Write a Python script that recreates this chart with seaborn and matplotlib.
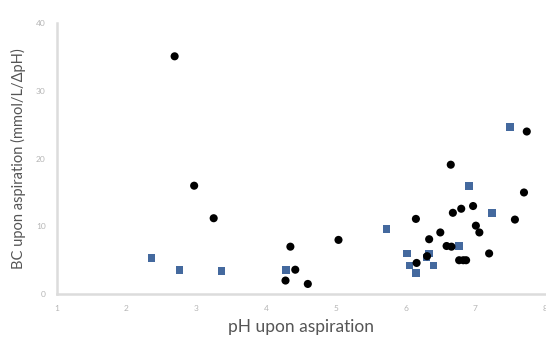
import seaborn as sns
import matplotlib.pyplot as plt
import pandas as pd

# black circles
ph_black = [2.69, 2.97, 3.25, 4.35, 4.28, 4.42, 4.60, 5.04,
            7.74, 6.65, 7.70, 6.97, 6.80, 6.68, 7.57, 6.15, 7.01, 7.06,
            6.50, 6.34, 6.59, 6.66, 7.20, 6.31, 6.77, 6.83, 6.87, 6.16]
bc_black = [35.1, 16.0, 11.2, 7.0, 2.0, 3.6, 1.5, 8.0,
            24.0, 19.1, 15.0, 13.0, 12.6, 12.0, 11.0, 11.1, 10.1, 9.1,
            9.1, 8.1, 7.1, 7.0, 6.0, 5.6, 5.0, 5.0, 5.0, 4.6]

# blue squares
ph_blue = [2.36, 2.76, 3.36, 4.29, 7.50, 6.91, 7.24, 5.73,
           6.02, 6.34, 6.77, 6.30, 6.06, 6.40, 6.15]
bc_blue = [5.3, 3.6, 3.4, 3.6, 24.7, 16.0, 12.0, 9.6,
           6.0, 6.0, 7.1, 5.4, 4.2, 4.2, 3.1]

df_black = pd.DataFrame({'ph': ph_black, 'bc': bc_black})
df_blue = pd.DataFrame({'ph': ph_blue, 'bc': bc_blue})

sns.set_style('white')
plt.rcParams['font.family'] = ['Lato', 'DejaVu Sans']

fig = plt.figure(figsize=(5.46, 3.4), dpi=100)
ax = fig.add_axes([0.104, 0.135, 0.894, 0.797])

sns.scatterplot(data=df_blue, x='ph', y='bc', marker='s', s=30, color='#44699e',
                edgecolor='none', ax=ax, zorder=3)
sns.scatterplot(data=df_black, x='ph', y='bc', marker='o', s=34, color='black',
                edgecolor='none', ax=ax, zorder=4)

ax.set_xlim(1, 8)
ax.set_ylim(0, 40)
ax.set_xticks(range(1, 9))
ax.set_yticks([0, 10, 20, 30, 40])
ax.tick_params(axis='both', length=0, labelsize=6, colors='#b5b5b5', pad=8)

ax.set_xlabel('pH upon aspiration', fontsize=12.5, color='#555555', labelpad=5)
ax.set_ylabel('BC upon aspiration (mmol/L/ΔpH)', fontsize=10.5, color='#555555', labelpad=7)

for s in ['top', 'right']:
    ax.spines[s].set_visible(False)
for s in ['left', 'bottom']:
    ax.spines[s].set_color('#dcdcdc')
    ax.spines[s].set_linewidth(1.8)

fig.savefig('out.png', dpi=100)
